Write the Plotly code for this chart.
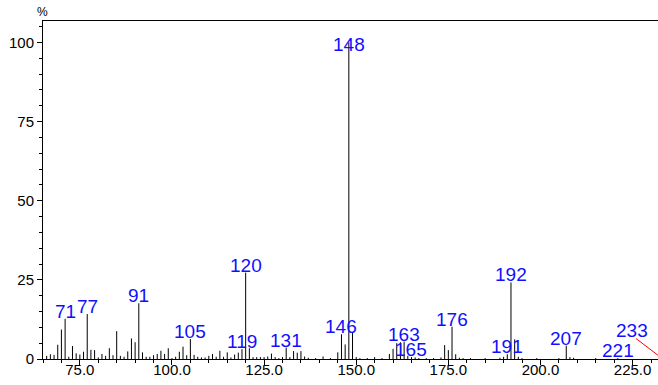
import plotly.graph_objects as go

# m/z values and relative intensities (%)
mz = [66, 67, 68, 69, 70, 71, 72, 73, 74, 75, 76, 77, 78, 79, 80, 81, 82, 83, 84, 85,
      86, 87, 88, 89, 90, 91, 92, 93, 94, 95, 96, 97, 98, 99, 100, 101, 102, 103, 104, 105,
      106, 107, 108, 109, 110, 111, 112, 113, 114, 115, 116, 117, 118, 119, 120, 121, 122, 123, 124, 125,
      126, 127, 128, 129, 130, 131, 132, 133, 134, 135, 136, 137, 139, 141, 143, 145, 146, 147, 148, 149,
      150, 151, 153, 155, 157, 159, 160, 161, 162, 163, 164, 165, 166, 167, 169, 171, 173, 174, 175, 176,
      177, 178, 179, 181, 185, 189, 190, 191, 192, 193, 194, 195, 199, 205, 207, 208, 209, 215, 221, 233]
intensity = [1.0, 1.5, 1.3, 4.5, 9.3, 12.7, 0.7, 4.1, 1.8, 1.4, 2.3, 14.2, 2.9, 2.8, 0.5, 1.6, 1.0, 3.4, 1.2, 8.8,
             1.0, 0.7, 2.4, 6.5, 5.3, 17.6, 2.1, 0.7, 0.7, 1.2, 1.6, 2.6, 1.6, 3.4, 0.3, 0.7, 2.3, 3.9, 1.2, 6.3,
             1.3, 0.7, 0.5, 0.5, 1.0, 1.6, 0.7, 2.6, 0.7, 2.1, 0.5, 1.4, 2.0, 3.1, 27.3, 3.4, 0.6, 0.6, 0.6, 0.6,
             0.8, 1.7, 0.6, 0.3, 0.6, 3.6, 0.6, 2.5, 2.0, 2.5, 0.8, 0.4, 0.3, 0.8, 0.3, 2.1, 7.8, 4.6, 100.0, 8.3,
             0.6, 0.3, 0.3, 0.6, 0.3, 1.6, 3.2, 5.0, 5.3, 5.5, 1.0, 0.6, 0.5, 0.3, 0.3, 0.3, 0.5, 4.4, 2.8, 10.2,
             1.5, 0.4, 0.3, 0.3, 0.3, 0.4, 0.7, 1.5, 24.2, 6.2, 0.7, 0.3, 0.3, 0.3, 4.2, 0.6, 0.4, 0.3, 0.3, 0.2]

# labelled peaks
label_mz = [71, 77, 91, 105, 119, 120, 131, 146, 148, 163, 165, 176, 191, 192, 207, 221, 233]

# axis ticks
x_ticks = [75, 100, 125, 150, 175, 200, 225]
y_ticks = [0, 25, 50, 75, 100]

X_RANGE = [65, 231.9]
Y_RANGE = [0, 106.8]
LABEL_CAP = 97          # labels of very tall peaks are kept inside the frame
CALLOUT_DX, CALLOUT_DY = -7.1, 6.3   # offset for labels of peaks outside the view

inten = dict(zip(mz, intensity))

xs, ys = [], []
for m, h in zip(mz, intensity):
    xs += [m, m, None]
    ys += [0, h, None]

fig = go.Figure()
fig.add_trace(go.Scatter(x=xs, y=ys, mode="lines",
                         line=dict(color="black", width=1), hoverinfo="skip",
                         showlegend=False))

annotations = []
lab_font = dict(family="Liberation Sans, Arial, sans-serif", size=19, color="#1010ff")
for m in label_mz:
    h = inten[m]
    if m > X_RANGE[1]:
        lx, ly = m + CALLOUT_DX, h + CALLOUT_DY
        fig.add_trace(go.Scatter(x=[lx, m], y=[ly, h], mode="lines",
                                 line=dict(color="red", width=1), hoverinfo="skip",
                                 showlegend=False))
        annotations.append(dict(x=lx, y=ly, xref="x", yref="y", text=str(m),
                                showarrow=False, xanchor="center", yanchor="bottom",
                                xshift=-4, yshift=-5, font=lab_font))
    else:
        annotations.append(dict(x=m, y=min(h, LABEL_CAP), xref="x", yref="y", text=str(m),
                                showarrow=False, xanchor="center", yanchor="bottom",
                                yshift=-5, font=lab_font))

annotations.append(dict(x=0, y=1, xref="paper", yref="paper", text="%",
                        showarrow=False, xanchor="center", yanchor="bottom",
                        xshift=-1, yshift=0,
                        font=dict(family="Liberation Sans, Arial, sans-serif", size=12, color="black")))

fig.update_layout(
    width=658, height=385,
    margin=dict(l=43, r=0, t=21, b=26),
    paper_bgcolor="white", plot_bgcolor="white",
    annotations=annotations,
    font=dict(family="Liberation Sans, Arial, sans-serif", size=15, color="black"),
)
fig.update_xaxes(range=X_RANGE, showgrid=False, zeroline=False,
                 showline=True, linecolor="black", linewidth=1, mirror=True,
                 tickmode="array", tickvals=x_ticks, ticktext=[f"{v:.1f}" for v in x_ticks],
                 ticks="outside", ticklen=5, tickcolor="black", tickwidth=1,
                 ticklabelstandoff=-8,
                 minor=dict(dtick=5, tick0=0, ticks="outside", ticklen=3, tickcolor="black"),
                 tickfont=dict(size=15))
fig.update_yaxes(range=Y_RANGE, showgrid=False, zeroline=False,
                 showline=True, linecolor="black", linewidth=1,
                 tickmode="array", tickvals=y_ticks,
                 ticks="outside", ticklen=5, tickcolor="black", tickwidth=1,
                 minor=dict(dtick=5, tick0=0, ticks="outside", ticklen=3, tickcolor="black"),
                 tickfont=dict(size=15))

fig.write_html("out.html")
